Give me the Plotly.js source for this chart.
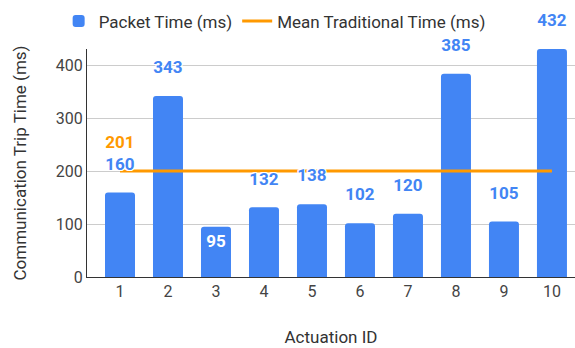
<!DOCTYPE html>
<html><head><meta charset="utf-8">
<script src="https://cdn.plot.ly/plotly-3.0.1.min.js"></script>
<style>html,body{margin:0;padding:0;background:#fff}#chart{width:575px;height:348px}</style>
</head><body><div id="chart"></div>
<script>
const actuationIds = [1, 2, 3, 4, 5, 6, 7, 8, 9, 10];
const packetTimes = [160, 343, 95, 132, 138, 102, 120, 385, 105, 432];
const meanTraditionalTime = 201;
const meanLineX = [1, 10];
const labelInside = [false, false, true, false, false, false, false, false, false, false];
const yTicks = [0, 100, 200, 300, 400];

const blue = '#4285f4', orange = '#ff9900';
const halo = '-1px -1px 0 #fff, 1px -1px 0 #fff, -1px 1px 0 #fff, 1px 1px 0 #fff, 0 -1px 0 #fff, 0 1px 0 #fff, -1px 0 0 #fff, 1px 0 0 #fff';
const labelFont = {family:'Roboto', size:17, weight:'bold'};

const outIdx = actuationIds.map((_, i) => i).filter(i => !labelInside[i]);
const inIdx = actuationIds.map((_, i) => i).filter(i => labelInside[i]);

const traces = [
  {type:'bar', x: actuationIds, y: packetTimes, name:'Packet Time (ms)',
   marker:{color: blue, cornerradius: 3}, hoverinfo:'none'},
  {type:'scatter', mode:'lines', x: meanLineX, y: meanLineX.map(() => meanTraditionalTime),
   name:'Mean Traditional Time (ms)', line:{color: orange, width: 3}, hoverinfo:'none'},
  {type:'scatter', mode:'markers+text', showlegend:false, hoverinfo:'none', cliponaxis:false,
   x: outIdx.map(i => actuationIds[i]), y: outIdx.map(i => packetTimes[i]),
   text: outIdx.map(i => String(packetTimes[i])), textposition:'top center',
   marker:{size:28, opacity:0, color:blue},
   textfont:Object.assign({}, labelFont, {color: blue, shadow: halo})},
  {type:'scatter', mode:'markers+text', showlegend:false, hoverinfo:'none', cliponaxis:false,
   x: inIdx.map(i => actuationIds[i]), y: inIdx.map(i => packetTimes[i]),
   text: inIdx.map(i => String(packetTimes[i])), textposition:'bottom center',
   marker:{size:10, opacity:0, color:blue},
   textfont:Object.assign({}, labelFont, {color: '#ffffff'})},
  {type:'scatter', mode:'markers+text', showlegend:false, hoverinfo:'none', cliponaxis:false,
   x: [meanLineX[0]], y: [meanTraditionalTime], text:[String(meanTraditionalTime)], textposition:'top center',
   marker:{size:28, opacity:0, color:orange},
   textfont:Object.assign({}, labelFont, {color: orange, shadow: halo})}
];

const layout = {
  width:575, height:348,
  margin:{l:87, r:0, t:49, b:71},
  paper_bgcolor:'#fff', plot_bgcolor:'#fff',
  font:{family:'Roboto', size:16, color:'#444'},
  bargap:0.375,
  showlegend:true,
  legend:{orientation:'h', xref:'container', yref:'container', x:0.102, y:0.99, xanchor:'left', yanchor:'top',
          bgcolor:'rgba(0,0,0,0)',
          font:{family:'Roboto', size:17, color:'#333'}, itemwidth:30, traceorder:'normal'},
  xaxis:{range:[0.3125, 10.48], tickmode:'array', tickvals: actuationIds, ticktext: actuationIds.map(String),
         showgrid:false, showline:true, linecolor:'#333', linewidth:1, ticks:'', zeroline:false,
         tickfont:{size:16, color:'#444'},
         title:{text:'Actuation ID', font:{size:17, color:'#333'}, standoff:30}},
  yaxis:{range:[0, 432], tickvals: yTicks, showgrid:true, gridcolor:'#cccccc',
         showline:true, linecolor:'#333', linewidth:1, zeroline:false, ticks:'', ticklen:0,
         tickfont:{size:16, color:'#444'},
         title:{text:'Communication Trip Time (ms)', font:{size:17, color:'#333'}, standoff:24}}
};

Plotly.newPlot('chart', traces, layout, {displayModeBar:false, staticPlot:true});
</script></body></html>
